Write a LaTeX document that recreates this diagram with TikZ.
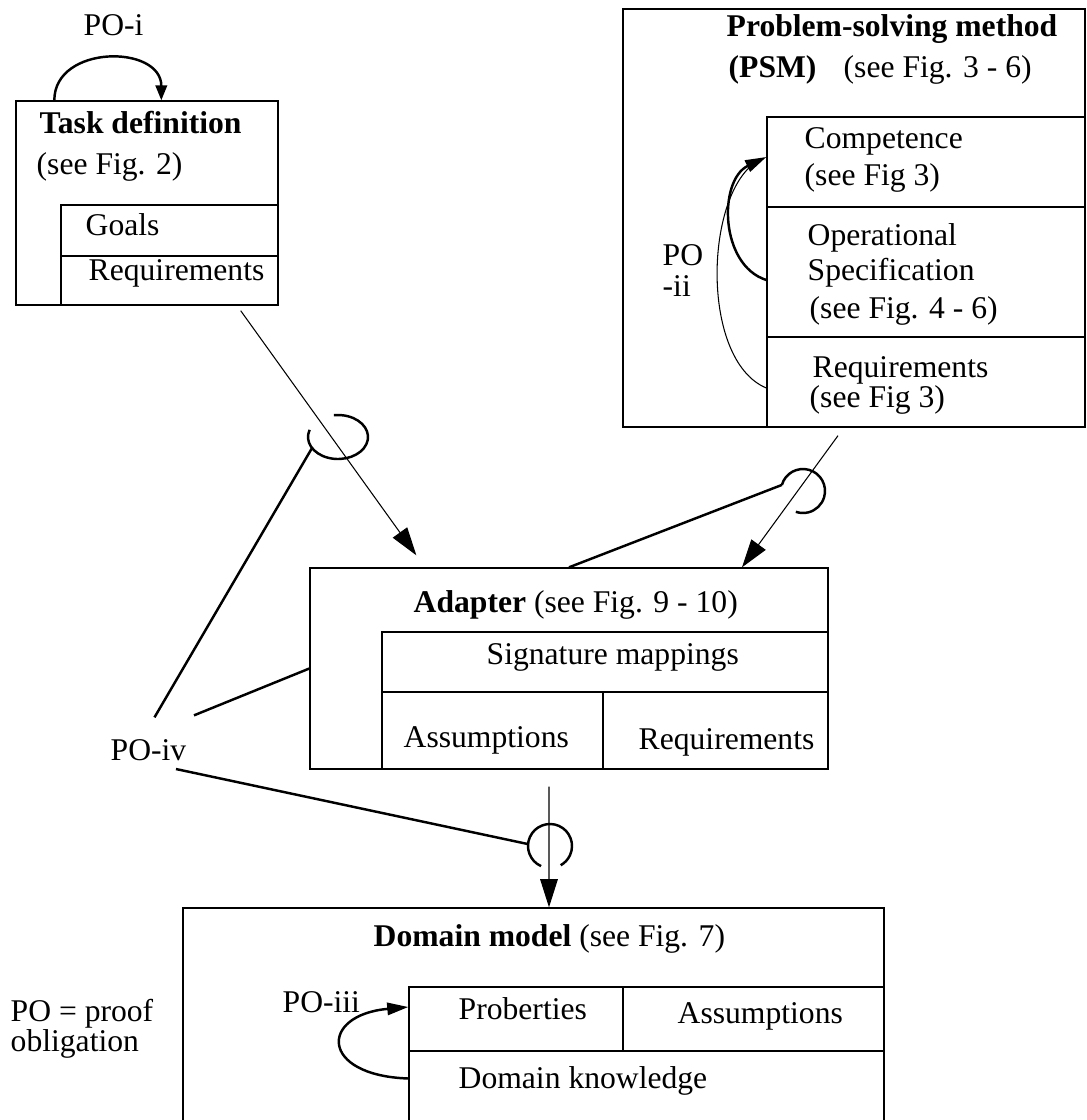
\documentclass[tikz,border=0pt]{standalone}
\usepackage{fontspec}
\setmainfont{Liberation Serif}
\usetikzlibrary{arrows.meta,calc}

\begin{document}
\begin{tikzpicture}[x=0.02cm, y=-0.02cm, line width=0.8pt,
                    font=\fontsize{18}{21}\selectfont,
                    cell/.style={draw, rectangle, inner sep=0pt},
                    txt/.style={anchor=base west, inner sep=0pt},
                    thin link/.style={line width=0.6pt},
                    thick link/.style={line width=1.4pt},
                    big tip/.style={-{Triangle[length=16pt, width=10pt]}},
                    mid tip/.style={-{Triangle[length=12pt, width=7pt]}},
                    small tip/.style={-{Triangle[length=8.5pt, width=6.5pt]}}]
  \useasboundingbox (0,0) rectangle (1087,1120);

  \node[cell, minimum width=5.24cm, minimum height=4.08cm] (task) at (147,203) {};
  \node[cell, minimum width=4.34cm, minimum height=1.02cm] (goals) at (169.5,230.5) {};
  \node[cell, minimum width=4.34cm, minimum height=0.98cm] (treq) at (169.5,280.5) {};
  \node[txt] (tdname) at (39,133) {\textbf{Task definition}};
  \node[txt] (tdref) at (36,174) {(see Fig. 2)};
  \node[txt] (goalst) at (85,235) {Goals};
  \node[txt] (treqt) at (88,280) {Requirements};
  \node[txt] (poi) at (83,35) {PO-i};

  \node[cell, minimum width=9.24cm, minimum height=8.36cm] (psm) at (854,218) {};
  \node[cell, minimum width=6.36cm, minimum height=1.8cm] (comp) at (926,162) {};
  \node[cell, minimum width=6.36cm, minimum height=2.6cm] (opspec) at (926,272) {};
  \node[cell, minimum width=6.36cm, minimum height=1.8cm] (preq) at (926,382) {};
  \node[txt] (psmname) at (726,36) {\textbf{Problem-solving method}};
  \node[txt] (psmabbr) at (728,77) {\textbf{(PSM)}};
  \node[txt] (psmref) at (843,77) {(see Fig. 3 - 6)};
  \node[txt] (compt) at (804,148) {Competence};
  \node[txt] (compref) at (804,185) {(see Fig 3)};
  \node[txt] (opspect) at (807,245) {Operational};
  \node[txt] (opspecb) at (807,280) {Specification};
  \node[txt] (opspecref) at (809,318) {(see Fig. 4 - 6)};
  \node[txt] (preqt) at (812,377) {Requirements};
  \node[txt] (preqref) at (809,407) {(see Fig 3)};
  \node[txt] (poii) at (662,265) {PO};
  \node[txt] (poiib) at (662,296) {-ii};

  \node[cell, minimum width=10.36cm, minimum height=4.02cm] (adapter) at (569,668.5) {};
  \node[cell, minimum width=8.92cm, minimum height=1.2cm] (sigmap) at (605,662) {};
  \node[cell, minimum width=4.42cm, minimum height=1.54cm] (aassum) at (492.5,730.5) {};
  \node[cell, minimum width=4.5cm, minimum height=1.54cm] (areq) at (715.5,730.5) {};
  \node[txt] (adname) at (413,612) {\textbf{Adapter} (see Fig. 9 - 10)};
  \node[txt] (sigmapt) at (486,664) {Signature mappings};
  \node[txt] (aassumt) at (403,747) {Assumptions};
  \node[txt] (areqt) at (638,749) {Requirements};
  \node[txt] (poiv) at (110,760) {PO-iv};

  \node[cell, minimum width=14.02cm, minimum height=4.44cm] (domain) at (533.5,1019) {};
  \node[cell, minimum width=4.28cm, minimum height=1.28cm] (probs) at (516,1019) {};
  \node[cell, minimum width=5.22cm, minimum height=1.28cm] (dassum) at (753.5,1019) {};
  \node[cell, minimum width=9.5cm, minimum height=1.58cm] (dknow) at (646.5,1090.5) {};
  \node[txt] (dmname) at (373,946) {\textbf{Domain model} (see Fig. 7)};
  \node[txt] (probst) at (458,1019) {Proberties};
  \node[txt] (dassumt) at (677,1023) {Assumptions};
  \node[txt] (dknowt) at (458,1088) {Domain knowledge};
  \node[txt] (poiii) at (282,1012) {PO-iii};
  \node[txt] (pokey) at (10,1021) {PO = proof};
  \node[txt] (pokeyb) at (10,1051) {obligation};

  \coordinate (sock1) at (338,437);
  \coordinate (sock2) at (803,491);
  \coordinate (sock3) at (550,846);

  \path[thin link]
  ($(task.south east)+(-38,5)$) edge[big tip] ($(adapter.north west)+(107,-12)$)
  ($(psm.south)+(-16,8)$) edge[big tip] ($(adapter.north)+(173,0)$)
  ($(adapter.south)+(-20,17)$) edge[big tip] ($(domain.north)+(15.5,0)$);

  \draw[thick link, small tip] ($(task.north west)+(39,0)$) .. controls +(0,-56) and +(0,-56) .. ($(task.north west)+(146,0)$);
  \draw[thick link, mid tip] ($(opspec.west)+(0,8)$) .. controls +(-47,-15) and +(-48,23) .. ($(comp.west)+(0,-5)$);
  \draw[thin link] ($(preq.west)+(0,6)$) .. controls +(-67,-28) and +(-55,30) .. ($(comp.west)+(-7,-2)$);
  \draw[thick link, mid tip] ($(dknow.west)+(0,-12)$) .. controls +(-89,-3) and +(-89,8) .. ($(probs.west)+(0,-12)$);

  \draw[thick link] ($(sock1)+(199:30 and 22)$) arc[start angle=199, end angle=-98, x radius=30, y radius=22];
  \draw[thick link] ($(sock2)+(196:22)$) arc[start angle=196, end angle=469, radius=22];
  \draw[thick link] ($(sock3)+(114:22)$) arc[start angle=114, end angle=421, radius=22];

  \path[thick link]
  ($(poiv.north)+(6,-21)$) edge ($(sock1)+(150:30 and 22)$)
  ($(poiv.north east)+(7,-23)$) edge (adapter.west)
  ($(poiv.south east)+(-11,8)$) edge ($(sock3)+(185:22)$)
  (adapter.north) edge ($(sock2)+(196:22)$);

\end{tikzpicture}
\end{document}
